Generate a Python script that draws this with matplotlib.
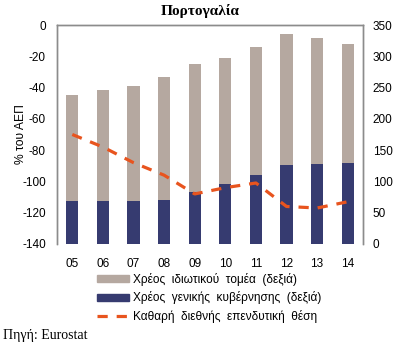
import matplotlib
matplotlib.use("Agg")
import matplotlib.pyplot as plt
from matplotlib.lines import Line2D
from matplotlib.patches import Patch
import numpy as np

## data
years = ["05", "06", "07", "08", "09", "10", "11", "12", "13", "14"]
private_debt = [238, 246, 252, 267, 288, 297, 315, 335, 330, 320]      # right axis
government_debt = [68, 69, 68, 70, 83, 96, 111, 126, 128, 130]         # right axis
niip = [-70, -78, -88, -96, -108, -104, -101, -116, -117, -113]        # left axis

grey = "#B5A8A0"
navy = "#363B70"
orange = "#E8541E"
spine_col = "#8C8C8C"

plt.rcParams["font.family"] = ["Liberation Sans", "DejaVu Sans"]
plt.rcParams["axes.unicode_minus"] = False

fig = plt.figure(figsize=(4.01, 3.45), dpi=100)
ax = fig.add_axes([57 / 401, 1 - 244 / 345, 306 / 401, 219 / 345])
ax2 = ax.twinx()

x = np.arange(len(years))

## bars on the right axis
ax2.bar(x, private_debt, width=0.4, color=grey, zorder=1)
ax2.bar(x, government_debt, width=0.4, color=navy, zorder=2)
ax2.set_ylim(0, 350)
ax2.set_yticks(np.arange(0, 351, 50))

## dashed line on the left axis, drawn on top
ax.plot(x, niip, color=orange, lw=2.3, ls=(0, (3.2, 2.8)))
ax.set_ylim(-140, 0)
ax.set_yticks(np.arange(-140, 1, 20))
ax.set_xlim(-0.5, len(years) - 0.5)
ax.set_xticks(x)
ax.set_xticklabels(years)
ax.set_zorder(ax2.get_zorder() + 1)
ax.patch.set_visible(False)

for a in (ax, ax2):
    a.spines["bottom"].set_visible(False)
    for s in ("top", "left", "right"):
        a.spines[s].set_color(spine_col)
        a.spines[s].set_linewidth(1.0)
    a.tick_params(length=0, labelsize=8.5)
ax.tick_params(axis="y", pad=8)
ax.tick_params(axis="x", pad=10)
ax2.tick_params(axis="y", pad=7)

ax.set_ylabel("% του ΑΕΠ", fontsize=8.7)
ax.yaxis.set_label_coords(-0.097, 0.5)

fig.text(0.5, 1 - 11 / 345, "Πορτογαλία", ha="center", va="center",
         fontsize=11, fontweight="bold", family="Liberation Serif")

handles = [
    Patch(color=grey),
    Patch(color=navy),
    Line2D([], [], color=orange, lw=2.3, ls=(0, (3.2, 2.8))),
]
labels = [
    "Χρέος  ιδιωτικού  τομέα  (δεξιά)",
    "Χρέος  γενικής  κυβέρνησης  (δεξιά)",
    "Καθαρή  διεθνής  επενδυτική  θέση",
]
fig.legend(handles, labels, loc="upper left", bbox_to_anchor=(97 / 401, 1 - 273 / 345),
           frameon=False, fontsize=8.6, handlelength=2.7, handleheight=0.5,
           handletextpad=0.33, labelspacing=0.45, borderpad=0, borderaxespad=0)

fig.text(3 / 401, 1 - 336 / 345, "Πηγή: Eurostat", ha="left", va="center",
         fontsize=10, family="Liberation Serif")

fig.savefig("out.png", dpi=100)
